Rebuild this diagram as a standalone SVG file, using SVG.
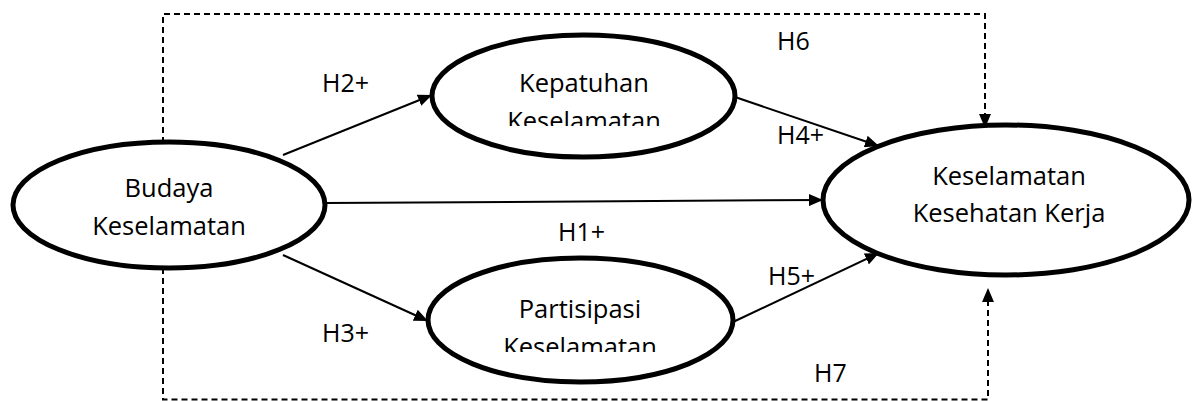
<svg xmlns="http://www.w3.org/2000/svg" width="1196" height="401" viewBox="0 0 1196 401">
  <style>
    .node ellipse { fill: #ffffff; stroke: #000000; stroke-width: 5; }
    .lbl { font-family: "Open Sans", "Noto Sans", "Liberation Sans", sans-serif; font-size: 25.5px; fill: #000000; text-anchor: middle; }
    .hl { font-family: "Open Sans", "Noto Sans", "Liberation Sans", sans-serif; font-size: 25px; fill: #000000; }
    .solid { fill: none; stroke: #000000; stroke-width: 2; }
    .dash { fill: none; stroke: #000000; stroke-width: 2; stroke-dasharray: 6 4; }
  </style>
  <defs>
    <marker id="arr" viewBox="0 0 14 12" refX="14" refY="6" markerWidth="14" markerHeight="12" markerUnits="userSpaceOnUse" orient="auto">
      <path d="M0,0 L14,6 L0,12 Z" fill="#000000"/>
    </marker>
    <clipPath id="clipTop"><rect x="420" y="30" width="330" height="96"/></clipPath>
    <clipPath id="clipBot"><rect x="420" y="255" width="330" height="97"/></clipPath>
  </defs>
  <rect width="1196" height="401" fill="#ffffff"/>

  <g id="connectors">
    <line class="solid" x1="283" y1="155" x2="432" y2="95" marker-end="url(#arr)"/>
    <line class="solid" x1="283" y1="255" x2="428" y2="321" marker-end="url(#arr)"/>
    <line class="solid" x1="325" y1="203" x2="823" y2="200" marker-end="url(#arr)"/>
    <line class="solid" x1="735" y1="97" x2="879" y2="146" marker-end="url(#arr)"/>
    <line class="solid" x1="733" y1="322" x2="879" y2="253" marker-end="url(#arr)"/>
    <path class="dash" d="M163,143 V14 H985 V128" marker-end="url(#arr)"/>
    <path class="dash" d="M163,268 V399.5 H988 V288" marker-end="url(#arr)"/>
    <text class="hl" x="322" y="92">H2+</text>
    <text class="hl" x="322" y="342">H3+</text>
    <text class="hl" x="558" y="241">H1+</text>
    <text class="hl" x="777" y="144">H4+</text>
    <text class="hl" x="768" y="285">H5+</text>
    <text class="hl" x="777" y="50">H6</text>
    <text class="hl" x="814" y="382">H7</text>
  </g>

  <g id="budaya" class="node">
    <ellipse cx="169" cy="205" rx="156" ry="63"/>
    <text class="lbl" x="169" y="197">Budaya</text>
    <text class="lbl" x="169" y="235">Keselamatan</text>
  </g>

  <g id="kepatuhan" class="node">
    <ellipse cx="583.5" cy="96" rx="151.5" ry="61"/>
    <g clip-path="url(#clipTop)">
      <text class="lbl" x="584" y="92">Kepatuhan</text>
      <text class="lbl" x="584" y="130">Keselamatan</text>
    </g>
  </g>

  <g id="partisipasi" class="node">
    <ellipse cx="580.5" cy="320" rx="152.5" ry="62"/>
    <g clip-path="url(#clipBot)">
      <text class="lbl" x="580" y="318">Partisipasi</text>
      <text class="lbl" x="580" y="356">Keselamatan</text>
    </g>
  </g>

  <g id="k3" class="node">
    <ellipse cx="1006" cy="200" rx="183" ry="75"/>
    <text class="lbl" x="1009" y="185">Keselamatan</text>
    <text class="lbl" x="1009" y="222">Kesehatan Kerja</text>
  </g>
</svg>
